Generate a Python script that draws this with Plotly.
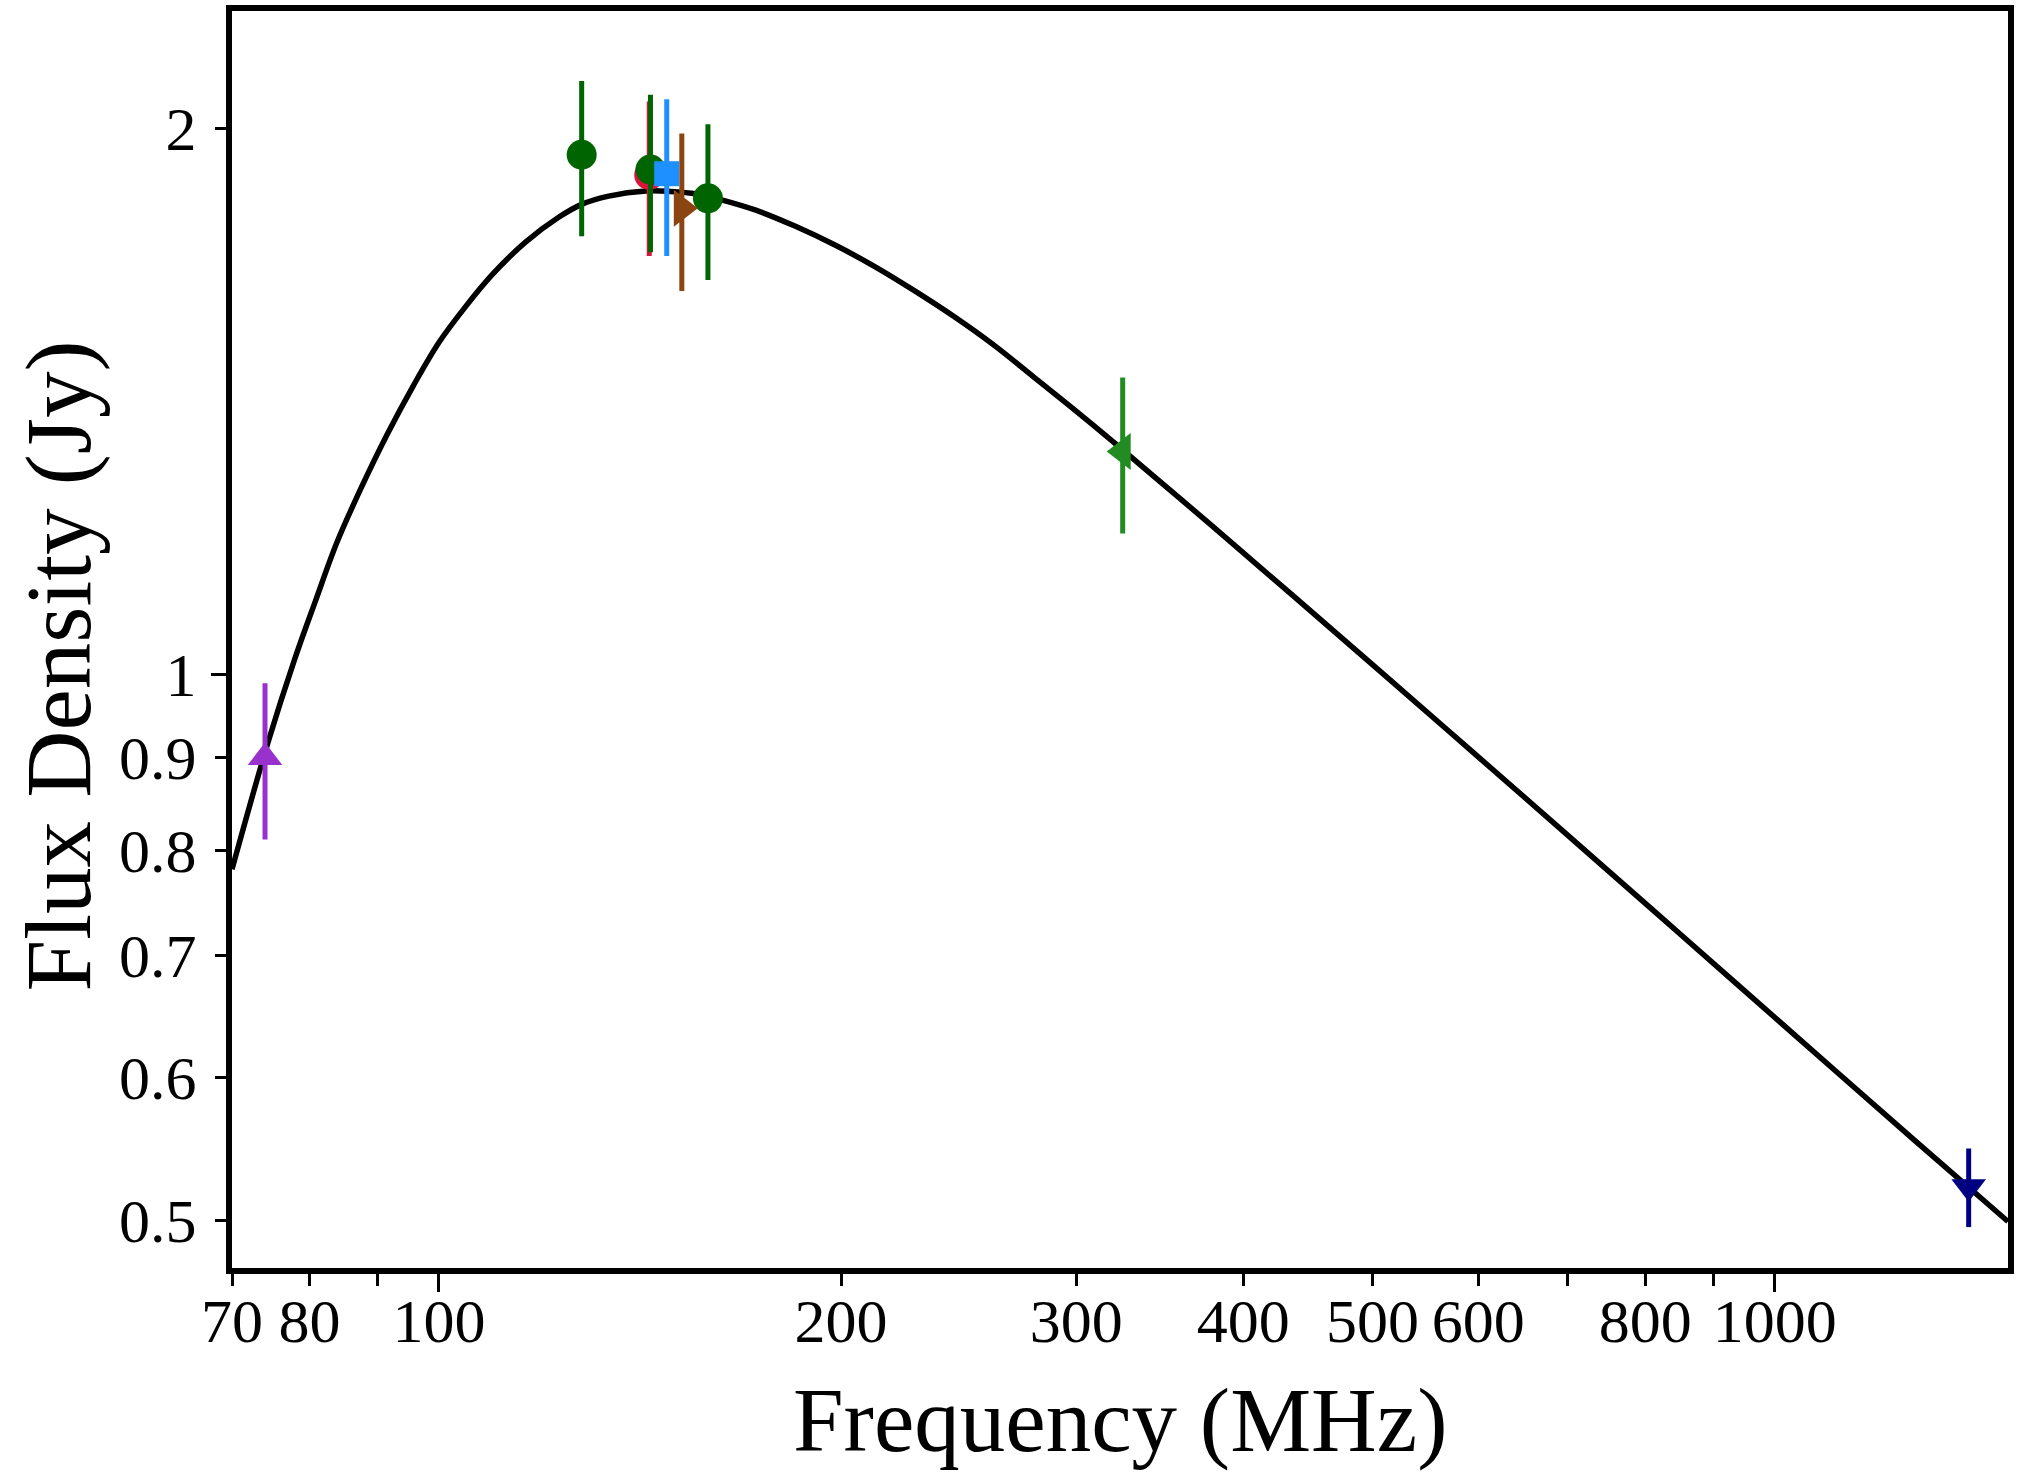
import math
import plotly.graph_objects as go

# ---------------- data ----------------
curve_freq = [70, 74.4, 78.0, 80.8, 83.9, 87.4, 91.5, 95.7, 100.0, 104.7, 109.7, 116.1,
              123.0, 127.9, 134.0, 142.9, 149.0, 156.0, 162.5, 172.9, 184.9, 198.1, 212.3,
              227.4, 243.6, 260.9, 278.7, 298.5, 319.6, 346.8, 380.5, 465.4, 568.9, 695.3,
              850.3, 1039.9, 1271.5, 1495]
curve_flux = [0.781, 0.915, 1.020, 1.097, 1.183, 1.266, 1.357, 1.443, 1.524, 1.595, 1.662,
              1.731, 1.787, 1.816, 1.835, 1.847, 1.846, 1.840, 1.827, 1.802, 1.766, 1.724,
              1.677, 1.626, 1.573, 1.517, 1.459, 1.401, 1.344, 1.277, 1.205, 1.060, 0.932,
              0.819, 0.719, 0.631, 0.554, 0.4995]

red_freq, red_flux, red_err = [143.7], [1.885], [0.184]
green_freq = [127.9, 144.0, 159.0]
green_flux = [1.934, 1.898, 1.830]
green_err = [0.19, 0.189, 0.18]
blue_freq, blue_flux, blue_err = [148.1], [1.888], [0.187]
brown_freq, brown_flux, brown_err = [152.0], [1.807], [0.18]
fgreen_freq, fgreen_flux, fgreen_err = [325.0], [1.327], [0.131]
navy_freq, navy_flux, navy_err = [1397.0], [0.522], [0.026]
purple_freq, purple_flux, purple_err = [74.1], [0.900], [0.089]

x_tickvals = [70, 80, 90, 100, 200, 300, 400, 500, 600, 700, 800, 900, 1000]
x_ticktext = ["70", "80", "", "100", "200", "300", "400", "500", "600", "", "800", "", "1000"]
x_major = [100, 1000]
y_tickvals = [0.5, 0.6, 0.7, 0.8, 0.9, 1, 2]
y_ticktext = ["0.5", "0.6", "0.7", "0.8", "0.9", "1", "2"]
y_major = [1]

x_range = [math.log10(70), math.log10(1495)]
y_range = [math.log10(0.4709), math.log10(2.321)]

FONT = "Liberation Serif"

fig = go.Figure()

fig.add_trace(go.Scatter(x=curve_freq, y=curve_flux, mode="lines",
                         line=dict(color="black", width=5.5, shape="spline", smoothing=1.0,
                                   simplify=False),
                         showlegend=False, hoverinfo="skip"))


def pts(fx, fy, fe, color, symbol, size):
    fig.add_trace(go.Scatter(
        x=fx, y=fy, mode="markers",
        marker=dict(color=color, symbol=symbol, size=size, line=dict(width=0)),
        error_y=dict(type="data", array=fe, visible=True, thickness=5, width=0, color=color),
        showlegend=False))


pts(red_freq, red_flux, red_err, "#DC143C", "circle", 30)
pts(green_freq, green_flux, green_err, "#006400", "circle", 30)
pts(blue_freq, blue_flux, blue_err, "#1E90FF", "square", 25)
pts(brown_freq, brown_flux, brown_err, "#8B4513", "triangle-right", 32)
pts(fgreen_freq, fgreen_flux, fgreen_err, "#228B22", "triangle-left", 32)
pts(navy_freq, navy_flux, navy_err, "#000080", "triangle-down", 30)
pts(purple_freq, purple_flux, purple_err, "#9932CC", "triangle-up", 30)

# invisible trace to anchor overlay axes (long major ticks)
fig.add_trace(go.Scatter(x=[100], y=[1], xaxis="x2", yaxis="y2", mode="markers",
                         marker=dict(opacity=0), showlegend=False, hoverinfo="skip"))

tickfont = dict(family=FONT, size=62, color="black")

fig.update_layout(
    width=2019, height=1474,
    margin=dict(l=232, r=5, t=11, b=206),
    plot_bgcolor="white", paper_bgcolor="white",
    xaxis=dict(type="log", range=x_range, tickmode="array", tickvals=x_tickvals,
               ticktext=x_ticktext, ticks="outside", ticklen=12, tickwidth=3,
               tickcolor="black", showline=True, linewidth=6, linecolor="black",
               mirror=True, showgrid=False, zeroline=False, tickfont=tickfont,
               ticklabelstandoff=-18),
    yaxis=dict(type="log", range=y_range, tickmode="array", tickvals=y_tickvals,
               ticktext=y_ticktext, ticks="outside", ticklen=11, tickwidth=3,
               tickcolor="black", showline=True, linewidth=6, linecolor="black",
               mirror=True, showgrid=False, zeroline=False, tickfont=tickfont,
               ticklabelstandoff=6),
    xaxis2=dict(type="log", range=x_range, overlaying="x", anchor="y2", side="bottom",
                tickmode="array", tickvals=x_major, ticks="outside", ticklen=23,
                tickwidth=3, tickcolor="black", showticklabels=False, showline=False,
                showgrid=False, zeroline=False),
    yaxis2=dict(type="log", range=y_range, overlaying="y", anchor="x2", side="left",
                tickmode="array", tickvals=y_major, ticks="outside", ticklen=20,
                tickwidth=3, tickcolor="black", showticklabels=False, showline=False,
                showgrid=False, zeroline=False),
    annotations=[
        dict(text="Frequency (MHz)", xref="paper", yref="paper", x=0.5, y=-0.121,
             xanchor="center", yanchor="middle", showarrow=False,
             font=dict(family=FONT, size=91, color="black")),
        dict(text="Flux Density (Jy)", xref="paper", yref="paper", x=-0.0976, y=0.479,
             xanchor="center", yanchor="middle", showarrow=False, textangle=-90,
             font=dict(family=FONT, size=93, color="black")),
    ],
)

fig.write_html("out.html")
